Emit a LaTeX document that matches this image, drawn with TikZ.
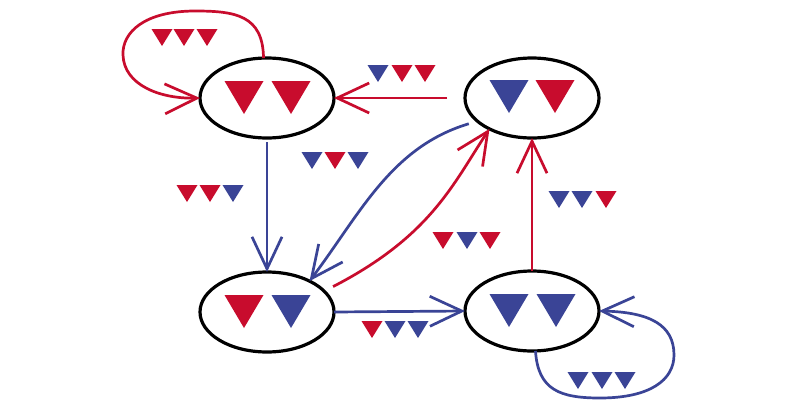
\documentclass[tikz,border=0pt]{standalone}
\usetikzlibrary{shapes.geometric,arrows.meta}
\definecolor{cred}{RGB}{200,12,45}
\definecolor{cblue}{RGB}{58,68,150}
% big triangle: centre x, top y, colour
\newcommand\bigtri[3]{\fill[#3] (#1-19.5,#2) -- (#1+19.5,#2) -- (#1,#2+33) -- cycle;}
% small triangle: centre x, top y, colour
\newcommand\smtri[3]{\fill[#3] (#1-10.5,#2) -- (#1+10.5,#2) -- (#1,#2+17) -- cycle;}
\begin{document}
\begin{tikzpicture}[x=1pt,y=-1pt,
  state/.style={ellipse,draw=black,line width=3.2pt,minimum width=134pt,minimum height=80pt,inner sep=0pt,outer sep=0pt},
  edge/.style={line width=2.7pt,-{Straight Barb[length=32pt,width=30pt]}},
  redge/.style={edge,draw=cred},
  bedge/.style={edge,draw=cblue}]
\path[use as bounding box,fill=white] (0,0) rectangle (800,418);

\node[state] (tl) at (267,98) {};
\node[state] (tr) at (532,98) {};
\node[state] (bl) at (267,312) {};
\node[state] (br) at (532,311) {};

% state contents
\bigtri{244}{81}{cred}\bigtri{291}{81}{cred}
\bigtri{509}{80}{cblue}\bigtri{555}{80}{cred}
\bigtri{244}{295}{cred}\bigtri{291}{295}{cblue}
\bigtri{509}{294}{cblue}\bigtri{556}{294}{cblue}

% connectors
\draw[redge] (tl.95) .. controls (263,15) and (235,11) .. (195,11)
  .. controls (145,11) and (122,32) .. (123,55)
  .. controls (124,85) and (160,99) .. (tl.west);
\draw[redge,shorten <=18pt] (tr.west) -- (tl.east);
\draw[bedge,shorten <=4pt] (tl.south) -- (bl.north);
\draw[bedge] (bl.east) -- (br.west);
\draw[redge] (br.north) -- (tr.south);
\draw[bedge,shorten <=9pt] (tr.203) .. controls (391,147) and (360,214) .. (bl.36);
\draw[redge,shorten <=10pt] (bl.20) .. controls (431,236) and (453,184) .. (tr.216);
\draw[bedge] (br.275) .. controls (538,390) and (560,398) .. (600,398)
  .. controls (650,398) and (674,380) .. (674,355)
  .. controls (674,325) and (650,312) .. (br.east);

% labels
\smtri{162}{29}{cred}\smtri{184}{29}{cred}\smtri{207}{29}{cred}
\smtri{378}{65}{cblue}\smtri{402}{65}{cred}\smtri{425}{65}{cred}
\smtri{312}{152}{cblue}\smtri{335}{152}{cred}\smtri{358}{152}{cblue}
\smtri{187}{185}{cred}\smtri{210}{185}{cred}\smtri{233}{185}{cblue}
\smtri{443}{232}{cred}\smtri{467}{232}{cblue}\smtri{490}{232}{cred}
\smtri{559}{191}{cblue}\smtri{582}{191}{cblue}\smtri{606}{191}{cred}
\smtri{372}{321}{cred}\smtri{395}{321}{cblue}\smtri{418}{321}{cblue}
\smtri{578}{372}{cblue}\smtri{602}{372}{cblue}\smtri{625}{372}{cblue}
\end{tikzpicture}
\end{document}
